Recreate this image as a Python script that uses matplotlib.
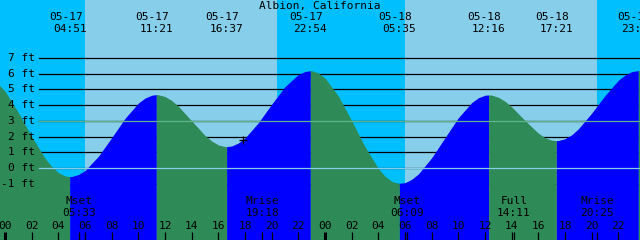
import matplotlib
matplotlib.use("Agg")
import matplotlib.pyplot as plt

title = "Albion, California"

# tide extremes, hours counted from 05-17 00:00
extreme_hours = [4.85, 11.35, 16.62, 22.90, 29.58, 36.27, 41.35, 47.50]
extreme_ft = [-0.55, 4.67, 1.36, 6.19, -0.98, 4.65, 1.74, 6.20]
extreme_dates = ["05-17", "05-17", "05-17", "05-17", "05-18", "05-18", "05-18", "05-18"]
extreme_times = ["04:51", "11:21", "16:37", "22:54", "05:35", "12:16", "17:21", "23:30"]

# water level
curve_hours = [-1, 0, 1, 2, 3, 3.5, 4, 4.5, 4.85, 5, 5.5, 6, 7, 8, 9, 10, 10.5, 11,
               11.35, 11.5, 12, 12.5, 13, 14, 15, 15.5, 16, 16.5, 16.62, 17, 17.5,
               18, 19, 20, 21, 22, 22.5, 22.9, 23, 23.5, 24, 25, 26, 27, 28, 28.5,
               29, 29.5, 29.58, 30, 30.5, 31, 32, 33, 34, 35, 35.5, 36, 36.27, 36.5,
               37, 37.5, 38, 39, 40, 40.5, 41, 41.35, 41.5, 42, 42.5, 43, 44, 45,
               46, 46.5, 47, 47.5, 48]
curve_ft = [5.77, 4.89, 3.53, 2.00, 0.62, 0.10, -0.29, -0.50, -0.55, -0.54, -0.42,
            -0.16, 0.74, 1.93, 3.16, 4.13, 4.45, 4.63, 4.67, 4.66, 4.55, 4.30, 3.93,
            3.00, 2.07, 1.72, 1.47, 1.36, 1.36, 1.40, 1.59, 1.91, 2.88, 4.06, 5.18,
            5.95, 6.14, 6.19, 6.19, 6.05, 5.72, 4.58, 3.01, 1.35, -0.03, -0.52,
            -0.85, -0.98, -0.98, -0.93, -0.72, -0.38, 0.65, 1.93, 3.20, 4.16, 4.47,
            4.63, 4.65, 4.64, 4.50, 4.25, 3.89, 3.02, 2.22, 1.93, 1.77, 1.74, 1.75,
            1.86, 2.11, 2.49, 3.49, 4.61, 5.58, 5.91, 6.13, 6.20, 6.15]

# daylight (sunrise, sunset) in hours
day_spans = [(6.0, 20.4), (30.0, 44.4)]

# moon events
moon_hours = [5.55, 19.30, 30.15, 38.18, 44.42]
moon_names = ["Mset", "Mrise", "Mset", "Full", "Mrise"]
moon_times = ["05:33", "19:18", "06:09", "14:11", "20:25"]

level_lines = [-1, 0, 1, 2, 3, 4, 5, 6, 7]
hour_ticks = list(range(0, 48, 2))
now_hour, now_ft = 17.85, 1.80

NIGHT = "#00BFFF"
DAY = "#87CEEB"
RISING = "#0000FF"
FALLING = "#2E8B57"

W, H = 640, 240
x_left, x_right = -0.375, 47.625
y_bot, y_top = -4.58, 10.69

fig = plt.figure(figsize=(W / 100, H / 100), dpi=100)
ax = fig.add_axes([0, 0, 1, 1])
ax.set_xlim(x_left, x_right)
ax.set_ylim(y_bot, y_top)
ax.axis("off")
fig.patch.set_facecolor(NIGHT)
ax.set_facecolor(NIGHT)

font = dict(family="DejaVu Sans Mono", fontsize=8, color="black")
tr = ax.get_xaxis_transform()


def fy(py):
    # pixel row from the top -> axes fraction
    return 1 - py / H


# sky
ax.axvspan(x_left, x_right, color=NIGHT, zorder=0, lw=0)
for rise, sset in day_spans:
    ax.axvspan(rise, sset, color=DAY, zorder=0, lw=0)

# level lines, hidden under the water
line_start = (39 - 5) / (W / 48)
for lv in level_lines:
    ax.plot([line_start, x_right], [lv, lv], color="black", lw=0.9, zorder=1)
    ax.text(line_start - 0.3, lv, f"{lv} ft", ha="right", va="center",
            zorder=5, **font)

# water, coloured by rising / falling
bounds = [curve_hours[0]] + extreme_hours + [curve_hours[-1]]
for b0, b1 in zip(bounds[:-1], bounds[1:]):
    hs = [h for h in curve_hours if b0 <= h <= b1]
    ys = [curve_ft[curve_hours.index(h)] for h in hs]
    col = RISING if ys[-1] > ys[0] else FALLING
    ax.fill_between(hs, ys, y_bot, color=col, lw=0, zorder=2)

# datum and mean level lines on top
ax.plot([line_start, x_right], [0, 0], color=DAY, lw=0.9, zorder=3)
ax.plot([line_start, x_right], [3, 3], color="#5FB38A", lw=0.9, zorder=3)

ax.plot(now_hour, now_ft, marker="+", color="black", ms=6, mew=0.9, zorder=4)

# top labels
ax.text((x_left + x_right) / 2, fy(6), title, ha="center", va="center",
        transform=tr, zorder=5, **font)
for h, d, t in zip(extreme_hours, extreme_dates, extreme_times):
    ax.text(h - 0.3, fy(17.5), d, ha="center", va="center", transform=tr,
            zorder=5, **font)
    ax.text(h, fy(29.5), t, ha="center", va="center", transform=tr,
            zorder=5, **font)

# moon labels
for h, n, t in zip(moon_hours, moon_names, moon_times):
    ax.text(h, fy(201.5), n, ha="center", va="center", transform=tr, zorder=5, **font)
    ax.text(h, fy(213), t, ha="center", va="center", transform=tr, zorder=5, **font)

# hour axis
for h in hour_ticks:
    ax.text(h, fy(226), f"{h % 24:02d}", ha="center", va="center",
            transform=tr, zorder=5, **font)
    lw = 2.2 if h % 24 == 0 else 0.9
    ax.plot([h, h], [0, fy(232)], color="black", lw=lw, transform=tr,
            solid_capstyle="butt", zorder=5)
for h in moon_hours:
    ax.plot([h, h], [0, fy(232)], color="black", lw=0.9, transform=tr,
            solid_capstyle="butt", zorder=5)

fig.savefig("out.png", dpi=100, facecolor=NIGHT)
